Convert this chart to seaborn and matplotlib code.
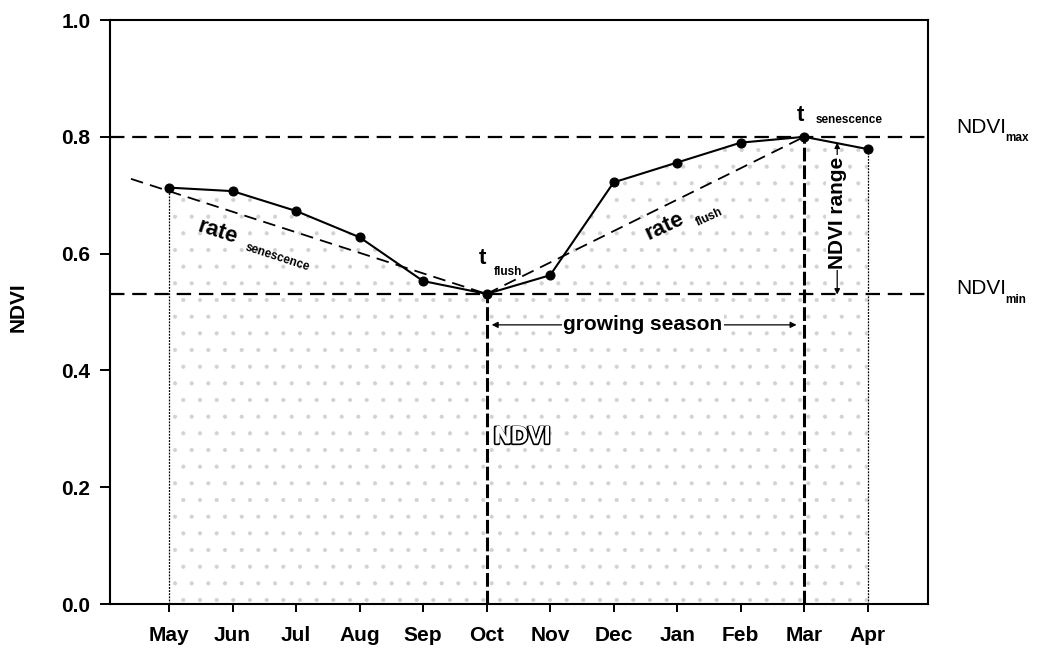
import numpy as np
import pandas as pd
import matplotlib
matplotlib.use("Agg")
import matplotlib.pyplot as plt
import seaborn as sns
from matplotlib import patheffects

# Monthly NDVI profile (May through April)
months = ["May", "Jun", "Jul", "Aug", "Sep", "Oct", "Nov", "Dec", "Jan", "Feb", "Mar", "Apr"]
ndvi = [0.713, 0.707, 0.673, 0.628, 0.553, 0.531, 0.563, 0.722, 0.756, 0.790, 0.800, 0.779]

# Phenology metrics
ndvi_min = 0.53
ndvi_max = 0.80
t_flush = "Oct"
t_senescence = "Mar"

# Fitted trend lines (month index, NDVI)
sen_trend_x = [-0.6, 5.0]
sen_trend_y = [0.728, 0.531]
flush_trend_x = [5.0, 10.0]
flush_trend_y = [0.531, 0.800]

sns.set_style("ticks")
plt.rcParams["font.family"] = ["Liberation Sans", "DejaVu Sans"]
plt.rcParams["font.weight"] = "bold"
for key in ["text.color", "axes.labelcolor", "xtick.color", "ytick.color", "axes.edgecolor"]:
    plt.rcParams[key] = "black"
plt.rcParams["hatch.color"] = "#d2d2d2"
plt.rcParams["hatch.linewidth"] = 0.5

df = pd.DataFrame({"pos": np.arange(len(months)), "month": months, "ndvi": ndvi})
i_flush = months.index(t_flush)
i_sen = months.index(t_senescence)

fig = plt.figure(figsize=(10.37, 6.52), dpi=100)
ax = fig.add_axes([0.1061, 0.0736, 0.7888, 0.8957])

# stippled area under the NDVI curve
ax.fill_between(df["pos"], 0, df["ndvi"], facecolor="none", edgecolor="#d2d2d2",
                hatch=".", linewidth=0, zorder=1)

# reference levels
ax.axhline(ndvi_max, color="black", lw=1.6, ls=(0, (6.5, 3.5)), zorder=2)
ax.axhline(ndvi_min, color="black", lw=1.6, ls=(0, (6.5, 3.5)), zorder=2)

# bounding verticals
ax.vlines([df["pos"].iloc[0], df["pos"].iloc[-1]], 0,
          [df["ndvi"].iloc[0], df["ndvi"].iloc[-1]],
          color="black", lw=0.9, ls=(0, (1.5, 1)), zorder=2)
ax.vlines([i_flush, i_sen], 0, [ndvi[i_flush], ndvi[i_sen]],
          color="black", lw=2.2, ls=(0, (4.5, 1.3)), zorder=3)

# trend lines
ax.plot(sen_trend_x, sen_trend_y, color="black", lw=1.3, ls=(0, (7, 4)), zorder=3)
ax.plot(flush_trend_x, flush_trend_y, color="black", lw=1.3, ls=(0, (7, 4)), zorder=3)

# NDVI series
sns.lineplot(data=df, x="pos", y="ndvi", ax=ax, color="black", lw=1.5,
             marker="o", markersize=6.5, markeredgecolor="black", zorder=4)

ax.set_xlim(-0.93, 11.95)
ax.set_ylim(0, 1.0)
ax.set_xticks(df["pos"])
ax.set_xticklabels(months)
ax.set_yticks(np.arange(0, 1.01, 0.2))
ax.set_yticklabels([f"{v:.1f}" for v in np.arange(0, 1.01, 0.2)])
ax.set_xlabel("")
ax.set_ylabel("")
ax.tick_params(axis="x", length=5.5, width=1.4, pad=10, labelsize=15, direction="out")
ax.tick_params(axis="y", length=7, width=1.4, pad=7, labelsize=15, direction="out")
for s in ax.spines.values():
    s.set_visible(True)
    s.set_linewidth(1.5)
    s.set_color("black")

fig.text(18 / 1037, 1 - 307 / 652, "NDVI", rotation=90, ha="center", va="center", fontsize=15)

# annotations
ax.text(0.77, 0.637, "rate", rotation=-18, ha="center", va="center", fontsize=16)
ax.text(1.70, 0.594, "senescence", rotation=-18, ha="center", va="center", fontsize=8.5)

ax.text(4.93, 0.592, "t", ha="center", va="center", fontsize=16)
ax.text(5.33, 0.568, "flush", ha="center", va="center", fontsize=8.5)

ax.text(7.81, 0.646, "rate", rotation=25, ha="center", va="center", fontsize=16)
ax.text(8.50, 0.663, "flush", rotation=25, ha="center", va="center", fontsize=8.5)

ax.text(9.94, 0.836, "t", ha="center", va="center", fontsize=16)
ax.text(10.70, 0.829, "senescence", ha="center", va="center", fontsize=8.5)

# NDVI range arrow
ax.annotate("", xy=(10.52, ndvi_min), xytext=(10.52, ndvi_max - 0.01),
            arrowprops=dict(arrowstyle="<|-|>", color="black", lw=0.9,
                            mutation_scale=8, shrinkA=0, shrinkB=0), zorder=5)
ax.text(10.52, 0.670, "NDVI range", rotation=90, ha="center", va="center", fontsize=15,
        bbox=dict(facecolor="white", edgecolor="none", pad=1), zorder=6)

# growing season arrow
ax.annotate("", xy=(i_flush + 0.08, 0.478), xytext=(i_sen - 0.12, 0.478),
            arrowprops=dict(arrowstyle="<|-|>", color="black", lw=0.9,
                            mutation_scale=9, shrinkA=0, shrinkB=0), zorder=5)
ax.text(7.46, 0.478, "growing season", ha="center", va="center", fontsize=15,
        bbox=dict(facecolor="white", edgecolor="none", pad=1), zorder=6)

# outlined area label
ax.text(5.56, 0.286, "NDVI", ha="center", va="center", fontsize=17, fontweight="bold",
        color="white", zorder=6,
        path_effects=[patheffects.withStroke(linewidth=2.4, foreground="black")])
ax.text(5.56, 0.286, "NDVI", ha="center", va="center", fontsize=17, fontweight="bold",
        color="white", zorder=7)

# level labels on the right
trans = ax.get_yaxis_transform()
ax.text(1.034, ndvi_max + 0.016, "NDVI", transform=trans, ha="left", va="center",
        fontsize=15, fontweight="normal", clip_on=False)
ax.text(1.094, ndvi_max - 0.002, "max", transform=trans, ha="left", va="center",
        fontsize=8.5, clip_on=False)
ax.text(1.034, ndvi_min + 0.010, "NDVI", transform=trans, ha="left", va="center",
        fontsize=15, fontweight="normal", clip_on=False)
ax.text(1.094, ndvi_min - 0.010, "min", transform=trans, ha="left", va="center",
        fontsize=8.5, clip_on=False)

fig.savefig("out.png", dpi=100)
